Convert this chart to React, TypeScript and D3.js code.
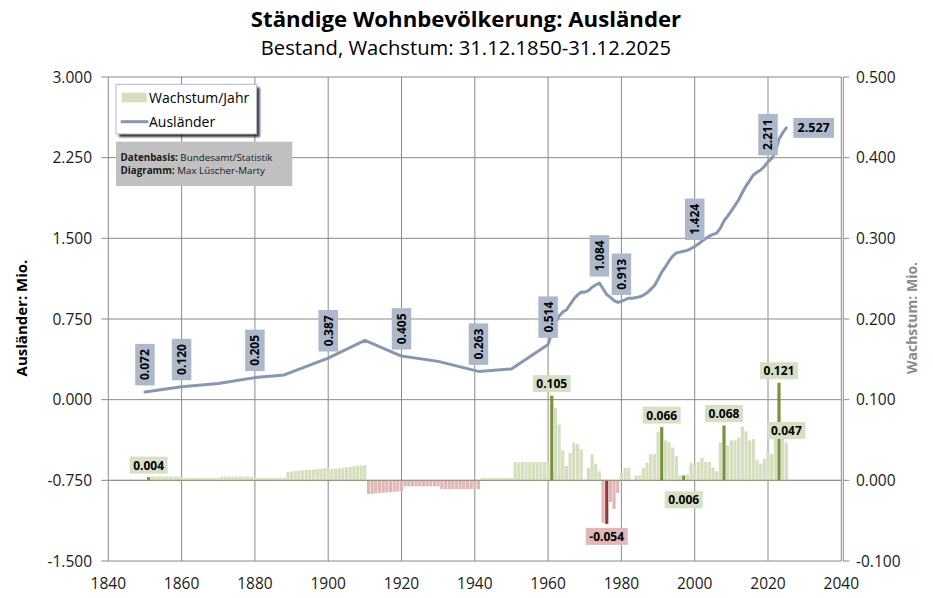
import React from 'react';
import * as d3 from 'd3';

const TITLE = 'Ständige Wohnbevölkerung: Ausländer';
const SUBTITLE = 'Bestand, Wachstum: 31.12.1850-31.12.2025';
const LEFT_TITLE = 'Ausländer: Mio.';
const RIGHT_TITLE = 'Wachstum: Mio.';
const LEGEND_BARS = 'Wachstum/Jahr';
const LEGEND_LINE = 'Ausländer';
const INFO = [
  ['Datenbasis:', ' Bundesamt/Statistik'],
  ['Diagramm:', ' Max Lüscher-Marty'],
];

const xTicks = [1840, 1860, 1880, 1900, 1920, 1940, 1960, 1980, 2000, 2020, 2040];
const leftTicks = [3, 2.25, 1.5, 0.75, 0, -0.75, -1.5];
const rightTicks = [0.5, 0.4, 0.3, 0.2, 0.1, 0, -0.1];

// Stock of foreigners (Mio.)
const censusYears = [1850, 1860, 1870, 1880, 1888, 1900, 1910, 1920, 1930, 1941, 1950];
const censusValues = [0.072, 0.12, 0.15, 0.205, 0.23, 0.387, 0.552, 0.405, 0.356, 0.263, 0.285];
const annualStart = 1960;
const annualValues = [
  0.514, 0.619, 0.709, 0.778, 0.816, 0.834, 0.885, 0.935, 0.972, 1.0,
  0.999, 1.013, 1.045, 1.066, 1.084, 1.031, 0.977, 0.952, 0.92, 0.905,
  0.913, 0.929, 0.944, 0.943, 0.949, 0.956, 0.971, 0.993, 1.026, 1.059,
  1.119, 1.185, 1.235, 1.29, 1.335, 1.365, 1.372, 1.38, 1.388, 1.405,
  1.424, 1.447, 1.475, 1.498, 1.521, 1.537, 1.548, 1.595, 1.663, 1.706,
  1.756, 1.806, 1.859, 1.926, 1.987, 2.037, 2.089, 2.114, 2.135, 2.168,
  2.211, 2.243, 2.301, 2.422, 2.48, 2.527,
];

// Growth per year (Mio.), 1851 .. 2025
const growthStart = 1851;
const growthValues = [
  0.004, 0.0048, 0.0048, 0.0048, 0.0048, 0.0048, 0.0048, 0.0048, 0.0048, 0.0048,
  0.003, 0.003, 0.003, 0.003, 0.003, 0.003, 0.003, 0.003, 0.003, 0.003,
  0.0045, 0.0045, 0.0045, 0.0045, 0.0045, 0.0045, 0.0045, 0.0045, 0.0045, 0.0045,
  0.0031, 0.0031, 0.0031, 0.0031, 0.0031, 0.0031, 0.0031, 0.0031,
  0.0105, 0.011, 0.0114, 0.0118, 0.0123, 0.0127, 0.0132, 0.0136, 0.0141, 0.0145, 0.015, 0.0155,
  0.014, 0.0145, 0.015, 0.0156, 0.0162, 0.0168, 0.0173, 0.0179, 0.0185, 0.019,
  -0.017, -0.0166, -0.0162, -0.0158, -0.0154, -0.015, -0.0146, -0.0142, -0.0138, -0.0134,
  -0.0075, -0.0075, -0.0075, -0.0075, -0.0075, -0.0075, -0.0075, -0.0075, -0.0075, -0.0075,
  -0.011, -0.011, -0.011, -0.011, -0.011, -0.011, -0.011, -0.011, -0.011, -0.011, -0.011,
  0.003, 0.003, 0.003, 0.003, 0.003, 0.003, 0.003, 0.003, 0.003,
  0.0225, 0.0225, 0.0225, 0.0225, 0.0225, 0.0225, 0.0225, 0.0225, 0.0225, 0.0225,
  0.105, 0.0897, 0.0694, 0.0372, 0.0178, 0.0339, 0.0467, 0.045, 0.0384, -0.001,
  0.0157, 0.0322, 0.0207, 0.0112, -0.0529, -0.054, -0.0269, -0.0355, -0.0157, 0.0083,
  0.0157, 0.0153, -0.001, 0.0062, 0.0062, 0.0153, 0.0222, 0.0322, 0.0326, 0.0599,
  0.066, 0.0496, 0.0471, 0.0405, 0.0298, 0.0062, 0.006, 0.0074, 0.0219, 0.0182,
  0.0227, 0.0281, 0.0227, 0.0227, 0.0157, 0.0112, 0.0467, 0.068, 0.0434, 0.0496,
  0.0496, 0.0529, 0.0669, 0.0607, 0.0496, 0.0512, 0.0248, 0.0207, 0.0264, 0.0351,
  0.0326, 0.058, 0.121, 0.058, 0.047,
];

const highlightYears = [1851, 1961, 1976, 1991, 1997, 2008, 2023];
const barLabelYears = [1851, 1961, 1976, 1991, 1997, 2008, 2023, 2025];
const barLabelBelowYears = [1976, 1997];
const lineLabelYears = [1850, 1860, 1880, 1900, 1920, 1941, 1960, 1974, 1980, 2000, 2020];
const lineEndLabelYear = 2025;

const C = {
  grid: '#8a8a8a',
  barLight: '#d5dfbf',
  barDark: '#77933c',
  negLight: '#e0b7b6',
  negDark: '#953735',
  line: '#8797b1',
  lineBox: '#adb9ca',
  barBox: '#d7e0c4',
  negBox: '#e0b8b8',
  text: '#1a1a1a',
};

const fmt = (v: number) => v.toFixed(3);

export default function App() {
  const font = "'Open Sans', 'Noto Sans', sans-serif";
  const x = d3.scaleLinear().domain([1840, 2040]).range([108.3, 841.3]);
  const yL = d3.scaleLinear().domain([-1.5, 3]).range([561, 77]);
  const yR = d3.scaleLinear().domain([-0.1, 0.5]).range([561, 77]);
  const step = x(1841) - x(1840);
  const bw = step - 0.5;

  const growth = growthValues.map((v, i) => ({ year: growthStart + i, value: v }));
  const linePts = [
    ...censusYears.map((yr, i) => ({ year: yr, value: censusValues[i] })),
    ...annualValues.map((v, i) => ({ year: annualStart + i, value: v })),
  ];
  const lineValue = (yr: number) => (linePts.find((p) => p.year === yr) as any).value as number;
  const growthValue = (yr: number) => (growth.find((p) => p.year === yr) as any).value as number;
  const lineGen = d3
    .line<{ year: number; value: number }>()
    .x((d) => x(d.year))
    .y((d) => yL(d.value));

  const plotL = x(1840);
  const plotR = x(2040);
  const plotT = yL(3);
  const plotB = yL(-1.5);
  const zeroR = yR(0);

  return (
    <svg
      width={933}
      height={598}
      style={{ position: 'absolute', left: 0, top: 0, background: '#fff' }}
      fontFamily={font}
    >
      <defs>
        <filter id="shadow" x="-20%" y="-20%" width="140%" height="140%">
          <feGaussianBlur stdDeviation="1.1" />
        </filter>
      </defs>
      <rect x={0} y={0} width={933} height={598} fill="#fff" />

      {/* title */}
      <text x={466} y={26.5} textAnchor="middle" fontSize={22.2} fontWeight="bold" fill="#000">
        {TITLE}
      </text>
      <text x={466} y={54.6} textAnchor="middle" fontSize={20.2} fill="#000">
        {SUBTITLE}
      </text>

      {/* grid */}
      {leftTicks.map((t) => (
        <line key={'h' + t} x1={plotL} x2={plotR} y1={yL(t)} y2={yL(t)} stroke={C.grid} strokeWidth={1} />
      ))}
      {xTicks.slice(1, -1).map((t) => (
        <line key={'v' + t} x1={x(t)} x2={x(t)} y1={plotT} y2={plotB} stroke={C.grid} strokeWidth={1} />
      ))}

      {/* bars */}
      {growth.map((d) => {
        const hl = highlightYears.includes(d.year);
        const neg = d.value < 0;
        const fill = neg ? (hl ? C.negDark : C.negLight) : hl ? C.barDark : C.barLight;
        const y0 = yR(Math.max(0, d.value));
        const y1 = yR(Math.min(0, d.value));
        return (
          <rect
            key={'b' + d.year}
            x={x(d.year) - bw / 2}
            y={y0}
            width={bw}
            height={Math.max(0.6, y1 - y0)}
            fill={fill}
          />
        );
      })}
      <line x1={plotL} x2={plotR} y1={zeroR} y2={zeroR} stroke="#8c9475" strokeWidth={1} />

      {/* axes */}
      <line x1={plotL} x2={plotL} y1={plotT} y2={plotB} stroke={C.grid} />
      <line x1={plotR} x2={plotR} y1={plotT} y2={plotB} stroke={C.grid} />
      <line x1={plotR + 2} x2={plotR + 2} y1={plotT} y2={plotB} stroke={C.grid} />
      {leftTicks.map((t) => (
        <g key={'lt' + t}>
          <line x1={plotL - 7} x2={plotL} y1={yL(t)} y2={yL(t)} stroke={C.grid} />
          <text x={92} y={yL(t) + 5.5} textAnchor="end" fontSize={15.5} fill={C.text}>
            {fmt(t)}
          </text>
        </g>
      ))}
      {rightTicks.map((t) => (
        <g key={'rt' + t}>
          <line x1={plotR + 2} x2={plotR + 8} y1={yR(t)} y2={yR(t)} stroke={C.grid} />
          <text x={856} y={yR(t) + 5.5} textAnchor="start" fontSize={15.5} fill={C.text}>
            {fmt(t)}
          </text>
        </g>
      ))}
      {xTicks.map((t) => (
        <text key={'xt' + t} x={x(t)} y={589} textAnchor="middle" fontSize={15.5} fill={C.text}>
          {t}
        </text>
      ))}
      <text
        transform={`translate(27,318) rotate(-90)`}
        textAnchor="middle"
        fontSize={15}
        fontWeight="bold"
        fill="#000"
      >
        {LEFT_TITLE}
      </text>
      <text
        transform={`translate(917,318) rotate(-90)`}
        textAnchor="middle"
        fontSize={14}
        fontWeight="bold"
        fill="#8c8c8c"
      >
        {RIGHT_TITLE}
      </text>

      {/* line */}
      <path
        d={lineGen(linePts) || ''}
        fill="none"
        stroke={C.line}
        strokeWidth={3}
        strokeLinejoin="round"
        strokeLinecap="round"
      />

      {/* line labels */}
      {lineLabelYears.map((yr) => {
        const v = lineValue(yr);
        const cx = x(yr);
        const bottom = yL(v) - 6.5;
        const h = 41.5;
        const w = 19.5;
        return (
          <g key={'ll' + yr}>
            <rect x={cx - w / 2} y={bottom - h} width={w} height={h} fill={C.lineBox} />
            <text
              transform={`translate(${cx + 4.4},${bottom - h / 2}) rotate(-90)`}
              textAnchor="middle"
              fontSize={12}
              fontWeight="bold"
              fill="#000"
            >
              {fmt(v)}
            </text>
          </g>
        );
      })}
      {(() => {
        const v = lineValue(lineEndLabelYear);
        const bx = x(lineEndLabelYear) + 7;
        const by = yL(v) - 10;
        return (
          <g>
            <rect x={bx} y={by} width={40.7} height={20} fill={C.lineBox} />
            <text x={bx + 20.35} y={by + 14.3} textAnchor="middle" fontSize={12.5} fontWeight="bold" fill="#000">
              {fmt(v)}
            </text>
          </g>
        );
      })()}

      {/* bar labels */}
      {barLabelYears.map((yr) => {
        const v = growthValue(yr);
        const txt = fmt(v);
        const w = txt.length > 5 ? 42 : 38;
        const h = 17;
        const below = barLabelBelowYears.includes(yr);
        const top = below
          ? v < 0
            ? yR(v) + 4
            : zeroR + 11
          : yR(v) - 3.5 - h;
        const cx = x(yr);
        return (
          <g key={'bl' + yr}>
            <rect x={cx - w / 2} y={top} width={w} height={h} fill={v < 0 ? C.negBox : C.barBox} />
            <text x={cx} y={top + 13} textAnchor="middle" fontSize={12} fontWeight="bold" fill="#000">
              {txt}
            </text>
          </g>
        );
      })}

      {/* legend */}
      <rect x={119} y={87.3} width={140.7} height={49.7} fill="#000" opacity={0.8} filter="url(#shadow)" />
      <rect x={116} y={84.3} width={140.7} height={49.7} fill="#fff" stroke="#a9bcd6" strokeWidth={1} />
      <rect x={121.7} y={92.7} width={25} height={9.6} fill={C.barLight} />
      <text x={149} y={102.5} fontSize={14} fill="#000">
        {LEGEND_BARS}
      </text>
      <line x1={120.7} x2={148.3} y1={121.7} y2={121.7} stroke={C.line} strokeWidth={3} />
      <text x={149} y={127} fontSize={14} fill="#000">
        {LEGEND_LINE}
      </text>

      {/* info box */}
      <rect x={116} y={141.7} width={176.3} height={44.3} fill="#c0c0c0" />
      {INFO.map((row, i) => (
        <text key={'info' + i} x={120.5} y={161 + i * 13.4} fontSize={9.8} fill="#1a1a1a">
          <tspan fontWeight="bold">{row[0]}</tspan>
          <tspan>{row[1]}</tspan>
        </text>
      ))}
    </svg>
  );
}
